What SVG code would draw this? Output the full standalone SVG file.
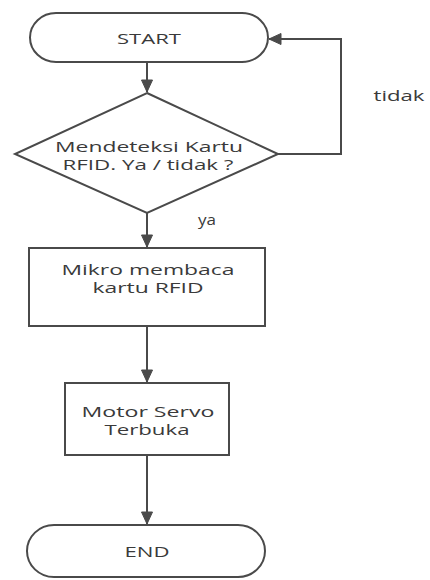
<svg xmlns="http://www.w3.org/2000/svg" width="430" height="580" viewBox="0 0 430 580">
  <style>
    .shape { fill: #ffffff; stroke: #4a4a4a; stroke-width: 2; }
    .flow { fill: none; stroke: #4a4a4a; stroke-width: 2; }
    .label { font-family: "Open Sans", "DejaVu Sans", sans-serif; font-size: 14px; fill: #3a3a3a; text-anchor: middle; }
  </style>
  <defs>
    <marker id="arrow" markerUnits="userSpaceOnUse" markerWidth="14" markerHeight="14" viewBox="0 0 14 14" refX="13" refY="7" orient="auto">
      <path d="M1,1.5 L13,7 L1,12.5 Z" fill="#4a4a4a" stroke="#4a4a4a" stroke-width="1"/>
    </marker>
  </defs>

  <rect width="430" height="580" fill="#ffffff"/>

  <!-- connectors -->
  <g id="connectors">
    <path class="flow" d="M147,62 L147,92" marker-end="url(#arrow)"/>
    <path class="flow" d="M147,213 L147,247" marker-end="url(#arrow)"/>
    <path class="flow" d="M147,326 L147,382" marker-end="url(#arrow)"/>
    <path class="flow" d="M147,455 L147,524" marker-end="url(#arrow)"/>
    <path class="flow" d="M278,154 L341,154 L341,39 L269,39" marker-end="url(#arrow)"/>
    <text class="label" x="399" y="101" textLength="51" lengthAdjust="spacingAndGlyphs">tidak</text>
    <text class="label" x="207" y="225" textLength="18" lengthAdjust="spacingAndGlyphs">ya</text>
  </g>

  <!-- start terminal -->
  <g id="start">
    <rect class="shape" x="30" y="13" width="238" height="49" rx="26" ry="24.5"/>
    <text class="label" x="149" y="44" textLength="64" lengthAdjust="spacingAndGlyphs">START</text>
  </g>

  <!-- RFID detection decision -->
  <g id="detect">
    <polygon class="shape" points="147,93 278,154 147,213 15,154"/>
    <text class="label" x="149" y="152" textLength="188" lengthAdjust="spacingAndGlyphs">Mendeteksi Kartu</text>
    <text class="label" x="148" y="170" textLength="171" lengthAdjust="spacingAndGlyphs">RFID. Ya / tidak ?</text>
  </g>

  <!-- read card process -->
  <g id="read">
    <rect class="shape" x="29" y="248" width="236" height="78"/>
    <text class="label" x="148" y="275" textLength="173" lengthAdjust="spacingAndGlyphs">Mikro membaca</text>
    <text class="label" x="148" y="293" textLength="111" lengthAdjust="spacingAndGlyphs">kartu RFID</text>
  </g>

  <!-- servo process -->
  <g id="servo">
    <rect class="shape" x="65" y="383" width="164" height="72"/>
    <text class="label" x="148" y="417" textLength="133" lengthAdjust="spacingAndGlyphs">Motor Servo</text>
    <text class="label" x="147" y="435" textLength="85" lengthAdjust="spacingAndGlyphs">Terbuka</text>
  </g>

  <!-- end terminal -->
  <g id="end">
    <rect class="shape" x="27" y="525" width="238" height="52" rx="27" ry="26"/>
    <text class="label" x="147" y="557" textLength="45" lengthAdjust="spacingAndGlyphs">END</text>
  </g>
</svg>
